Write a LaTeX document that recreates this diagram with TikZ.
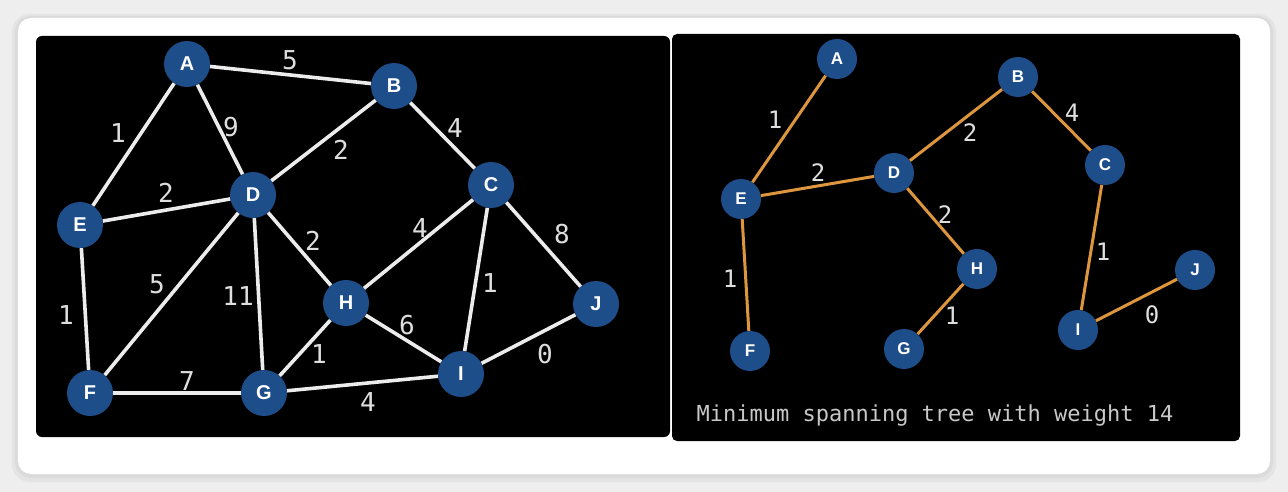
\documentclass[tikz,border=0pt]{standalone}
\usepackage{fontspec}
\setmonofont{DejaVu Sans Mono}
\newfontfamily\letterfont{Liberation Sans}
\definecolor{nodeblue}{RGB}{30,78,138}
\definecolor{treeorange}{RGB}{222,150,62}
\definecolor{edgegrey}{RGB}{236,236,236}
\definecolor{textgrey}{RGB}{222,222,222}
\definecolor{pagegrey}{RGB}{238,238,238}
\tikzstyle{gnode} = [circle, fill=nodeblue, text=white, minimum size=46pt, inner sep=0pt, font=\letterfont\bfseries\fontsize{20}{20}\selectfont]
\tikzstyle{tnode} = [gnode, minimum size=40pt, font=\letterfont\bfseries\fontsize{17}{17}\selectfont]
\tikzstyle{gedge} = [line width=3.6pt, draw=edgegrey]
\tikzstyle{tedge} = [line width=3pt, draw=treeorange]
\tikzstyle{weight} = [text=textgrey, inner sep=0pt, font=\ttfamily\fontsize{26}{26}\selectfont]
\tikzstyle{tweight} = [weight, font=\ttfamily\fontsize{24}{24}\selectfont]
\begin{document}
\begin{tikzpicture}[x=1pt, y=-1pt]
		% page and card
		\fill [pagegrey] (0,0) rectangle (1288,492);
		\fill [black, opacity=0.04, rounded corners=18pt] (12,14) rectangle (1276,482);
		\fill [black, opacity=0.04, rounded corners=16pt] (15,16) rectangle (1273,478);
		\fill [white, rounded corners=13pt] (18,18) rectangle (1270,474);
		\fill [black, rounded corners=6pt] (36,36) rectangle (670,437);
		\fill [black, rounded corners=5pt] (672,34) rectangle (1240,441);

		% full graph
		\node (gA) [gnode] at (187,64) {A};
		\node (gB) [gnode] at (394,86) {B};
		\node (gC) [gnode] at (491,185) {C};
		\node (gD) [gnode] at (253,195) {D};
		\node (gE) [gnode] at (80,225) {E};
		\node (gF) [gnode] at (90,393) {F};
		\node (gG) [gnode] at (264,393) {G};
		\node (gH) [gnode] at (346,303) {H};
		\node (gI) [gnode] at (461,374) {I};
		\node (gJ) [gnode] at (596,304) {J};
		\draw [gedge] (gA) -- (gB);
		\draw [gedge] (gA) -- (gE);
		\draw [gedge] (gA) -- (gD);
		\draw [gedge] (gB) -- (gD);
		\draw [gedge] (gB) -- (gC);
		\draw [gedge] (gE) -- (gD);
		\draw [gedge] (gE) -- (gF);
		\draw [gedge] (gD) -- (gF);
		\draw [gedge] (gD) -- (gG);
		\draw [gedge] (gD) -- (gH);
		\draw [gedge] (gC) -- (gH);
		\draw [gedge] (gC) -- (gI);
		\draw [gedge] (gC) -- (gJ);
		\draw [gedge] (gH) -- (gG);
		\draw [gedge] (gH) -- (gI);
		\draw [gedge] (gF) -- (gG);
		\draw [gedge] (gG) -- (gI);
		\draw [gedge] (gI) -- (gJ);
		\node (wAB) [weight] at (290,60) {5};
		\node (wAE) [weight] at (118,133) {1};
		\node (wAD) [weight] at (231,127) {9};
		\node (wBD) [weight] at (341,150) {2};
		\node (wED) [weight] at (166,193) {2};
		\node (wBC) [weight] at (455,128) {4};
		\node (wDH) [weight] at (313,241) {2};
		\node (wCH) [weight] at (420,228) {4};
		\node (wCJ) [weight] at (562,234) {8};
		\node (wDF) [weight] at (157,284) {5};
		\node (wDG) [weight] at (238,296) {11};
		\node (wEF) [weight] at (66,315) {1};
		\node (wHG) [weight] at (319,354) {1};
		\node (wHI) [weight] at (407,325) {6};
		\node (wCI) [weight] at (490,283) {1};
		\node (wIJ) [weight] at (545,354) {0};
		\node (wFG) [weight] at (187,381) {7};
		\node (wGI) [weight] at (368,402) {4};

		% spanning tree
		\node (tA) [tnode] at (837,59) {A};
		\node (tB) [tnode] at (1018,77) {B};
		\node (tC) [tnode] at (1105,165) {C};
		\node (tD) [tnode] at (894,173) {D};
		\node (tE) [tnode] at (741,199) {E};
		\node (tF) [tnode] at (750,351) {F};
		\node (tG) [tnode] at (904,349) {G};
		\node (tH) [tnode] at (977,269) {H};
		\node (tI) [tnode] at (1078,330) {I};
		\node (tJ) [tnode] at (1195,270) {J};
		\draw [tedge] (tA) -- (tE);
		\draw [tedge] (tE) -- (tD);
		\draw [tedge] (tD) -- (tB);
		\draw [tedge] (tB) -- (tC);
		\draw [tedge] (tD) -- (tH);
		\draw [tedge] (tE) -- (tF);
		\draw [tedge] (tH) -- (tG);
		\draw [tedge] (tC) -- (tI);
		\draw [tedge] (tI) -- (tJ);
		\node (vAE) [tweight] at (775,120) {1};
		\node (vED) [tweight] at (818,173) {2};
		\node (vDB) [tweight] at (970,133) {2};
		\node (vBC) [tweight] at (1072,113) {4};
		\node (vDH) [tweight] at (945,215) {2};
		\node (vEF) [tweight] at (730,279) {1};
		\node (vHG) [tweight] at (952,316) {1};
		\node (vCI) [tweight] at (1103,252) {1};
		\node (vIJ) [tweight] at (1152,315) {0};
		\node (caption) [text=textgrey!90!black, font=\ttfamily\fontsize{22}{22}\selectfont] at (935,416) {Minimum spanning tree with weight 14};
\end{tikzpicture}
\end{document}
